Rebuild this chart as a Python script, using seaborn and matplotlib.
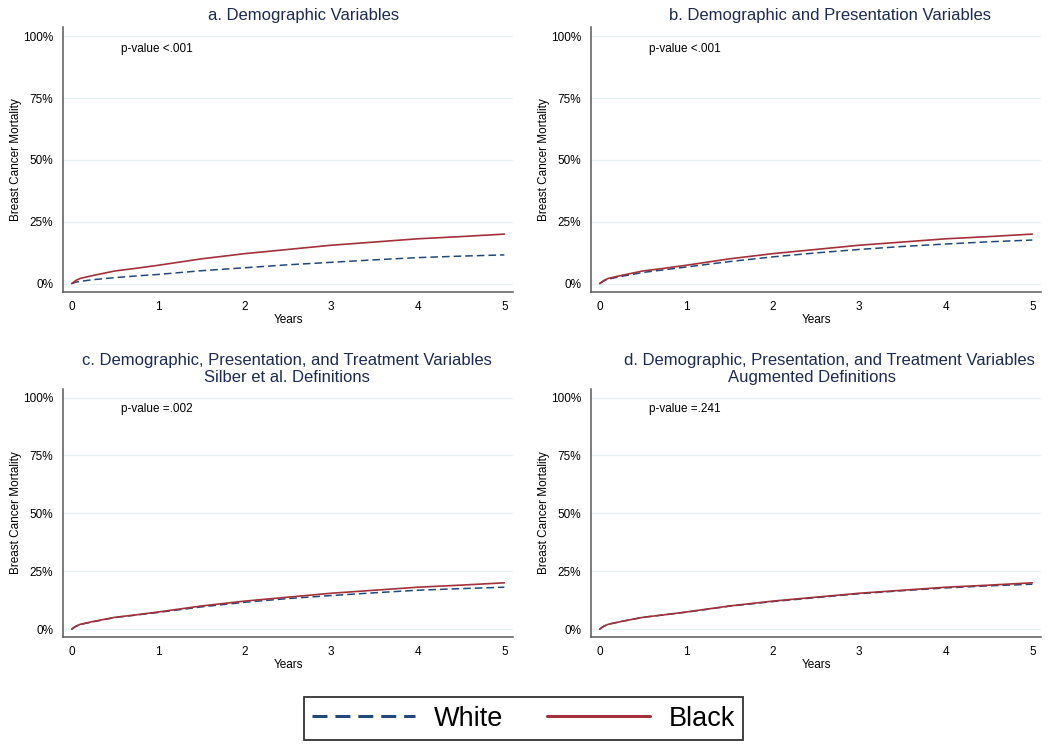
import pandas as pd
import matplotlib
matplotlib.use("Agg")
import matplotlib.pyplot as plt
from matplotlib.lines import Line2D
import seaborn as sns

# cumulative breast cancer mortality (%)
years = [0, 0.05, 0.1, 0.25, 0.5, 0.75, 1, 1.5, 2, 2.5, 3, 3.5, 4, 4.5, 5]
black = [0, 1.3, 2.1, 3.3, 5.1, 6.2, 7.4, 10.0, 12.1, 13.8, 15.5, 16.8, 18.1, 19.0, 20.0]
white_a = [0, 0.6, 0.9, 1.6, 2.4, 3.1, 3.7, 5.2, 6.4, 7.6, 8.6, 9.6, 10.5, 11.1, 11.6]
white_b = [0, 1.1, 1.8, 2.9, 4.5, 5.6, 6.7, 8.9, 10.8, 12.4, 13.8, 15.0, 16.0, 16.9, 17.6]
white_c = [0, 1.2, 2.0, 3.2, 5.0, 6.1, 7.2, 9.6, 11.6, 13.2, 14.5, 15.7, 16.8, 17.5, 18.1]
white_d = [0, 1.3, 2.1, 3.3, 5.1, 6.2, 7.3, 9.9, 11.9, 13.6, 15.3, 16.6, 17.8, 18.7, 19.4]

titles = [
    ["a. Demographic Variables"],
    ["b. Demographic and Presentation Variables"],
    ["c. Demographic, Presentation, and Treatment Variables", "Silber et al. Definitions"],
    ["d. Demographic, Presentation, and Treatment Variables", "Augmented Definitions"],
]
pvalues = ["p-value <.001", "p-value <.001", "p-value =.002", "p-value =.241"]
whites = [white_a, white_b, white_c, white_d]
yticks = [0, 25, 50, 75, 100]

RED = "#a3303a"
BLUE = "#23497a"
TITLE_C = "#1c2b4f"
SPINE_C = "#5a5a5a"
DASH = (0, (5, 2.6))

sns.set_style("white")
plt.rcParams['font.family'] = ['Liberation Sans', 'DejaVu Sans']
plt.rcParams['text.color'] = 'black'
plt.rcParams['axes.labelcolor'] = 'black'

W, H = 1050, 753
fig = plt.figure(figsize=(W / 100, H / 100), dpi=100)

# axes boxes in pixels: left, top, width, height
boxes = [(63, 27, 450, 265), (591, 27, 450, 265), (63, 389, 450, 248), (591, 389, 450, 248)]
# title line centres (px) for each panel
title_x = [[304], [830], [287, 287], [829, 812]]

for i, (l, t, w, h) in enumerate(boxes):
    ax = fig.add_axes([l / W, 1 - (t + h) / H, w / W, h / H])
    df = pd.DataFrame({"Years": years, "White": whites[i], "Black": black})
    sns.lineplot(data=df, x="Years", y="White", ax=ax, color=BLUE, lw=1.1, linestyle=DASH)
    sns.lineplot(data=df, x="Years", y="Black", ax=ax, color=RED, lw=1.2)

    ax.set_xlim(-0.1, 5.1)
    ax.set_ylim(-3.4, 103.7)
    ax.set_xticks(range(6))
    ax.set_yticks(yticks)
    ax.set_yticklabels([f"{v}%" for v in yticks])
    ax.tick_params(axis="both", labelsize=8.5, color=SPINE_C, labelcolor="black",
                   direction="out", length=4.5, width=0.9, pad=2)
    ax.tick_params(axis="y", length=5)
    ax.yaxis.grid(True, color="#e6f0f2", lw=0.9)
    ax.set_axisbelow(True)
    for s in ["top", "right"]:
        ax.spines[s].set_visible(False)
    for s in ["left", "bottom"]:
        ax.spines[s].set_color(SPINE_C)
        ax.spines[s].set_linewidth(1.1)
    ax.set_xlabel("Years", fontsize=8.5, labelpad=1)
    ax.set_ylabel("Breast Cancer Mortality", fontsize=8.5, labelpad=0.5)
    ax.text(0.57, 95, pvalues[i], fontsize=8.5, ha="left", va="center")

    lines = titles[i]
    n = len(lines)
    for k, line in enumerate(lines):
        # baseline of last line sits 7 px above the axes top, 16.5 px line step
        yb = t - 7 - (n - 1 - k) * 16.5
        fig.text(title_x[i][k] / W, 1 - yb / H, line, fontsize=12, color=TITLE_C,
                 ha="center", va="baseline")

handles = [Line2D([], [], color=BLUE, lw=2.2, linestyle=(0, (4.9, 2.6))),
           Line2D([], [], color=RED, lw=2.2)]
leg = fig.legend(handles, ["White", "Black"], loc="center", bbox_to_anchor=(0.4986, 0.0458),
                 ncol=2, fontsize=19.5, frameon=True, fancybox=False, handlelength=3.8,
                 handletextpad=0.7, columnspacing=1.6, borderpad=0.3, borderaxespad=0)
leg.get_frame().set_edgecolor("black")
leg.get_frame().set_linewidth(1.3)

fig.savefig("out.png", dpi=100, facecolor="white")
